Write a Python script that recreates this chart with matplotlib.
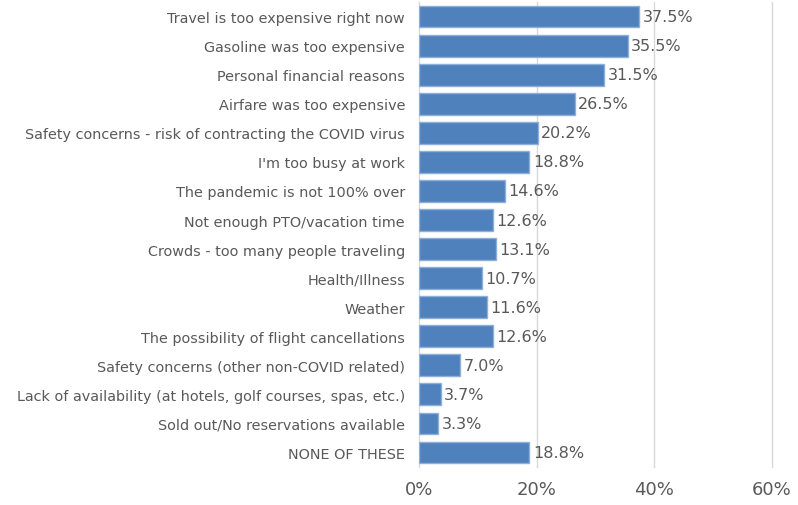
import matplotlib

matplotlib.use("Agg", force=True)
import matplotlib.pyplot as plt
import numpy as np

reasons = [
    "Travel is too expensive right now",
    "Gasoline was too expensive",
    "Personal financial reasons",
    "Airfare was too expensive",
    "Safety concerns - risk of contracting the COVID virus",
    "I'm too busy at work",
    "The pandemic is not 100% over",
    "Not enough PTO/vacation time",
    "Crowds - too many people traveling",
    "Health/Illness",
    "Weather",
    "The possibility of flight cancellations",
    "Safety concerns (other non-COVID related)",
    "Lack of availability (at hotels, golf courses, spas, etc.)",
    "Sold out/No reservations available",
    "NONE OF THESE",
]
shares = [37.5, 35.5, 31.5, 26.5, 20.2, 18.8, 14.6, 12.6, 13.1, 10.7, 11.6, 12.6, 7.0, 3.7, 3.3, 18.8]
x_ticks = [0, 20, 40, 60]

text_color = "#595959"
plt.rcParams["font.family"] = ["DejaVu Sans"]

fig = plt.figure(figsize=(7.98, 5.06), dpi=100)
ax = fig.add_axes([0.525, 0.075, 0.442, 0.919])

y = np.arange(len(reasons))
ax.barh(y, shares, height=0.75, color="#4F81BD", edgecolor="#8DAFDA", linewidth=1.0, zorder=2)

# percentage label just past the end of each bar
for yi, val in zip(y, shares):
    ax.text(val + 0.6, yi, f"{val:.1f}%", va="center", ha="left",
            fontsize=11.5, color=text_color)

ax.set_xlim(0, 60)
ax.set_ylim(len(reasons) - 0.5, -0.5)
ax.set_xticks(x_ticks, [f"{t}%" for t in x_ticks])
ax.set_yticks(y, reasons)
ax.tick_params(axis="y", length=0, pad=10, labelsize=10.4, labelcolor=text_color)
ax.tick_params(axis="x", length=0, pad=9, labelsize=13, labelcolor=text_color)
ax.grid(axis="x", color="#D9D9D9", linewidth=1.0, zorder=0)
for line in ax.get_xgridlines():
    line.set_clip_on(False)
for spine in ax.spines.values():
    spine.set_visible(False)

fig.savefig("out.png", dpi=100)
